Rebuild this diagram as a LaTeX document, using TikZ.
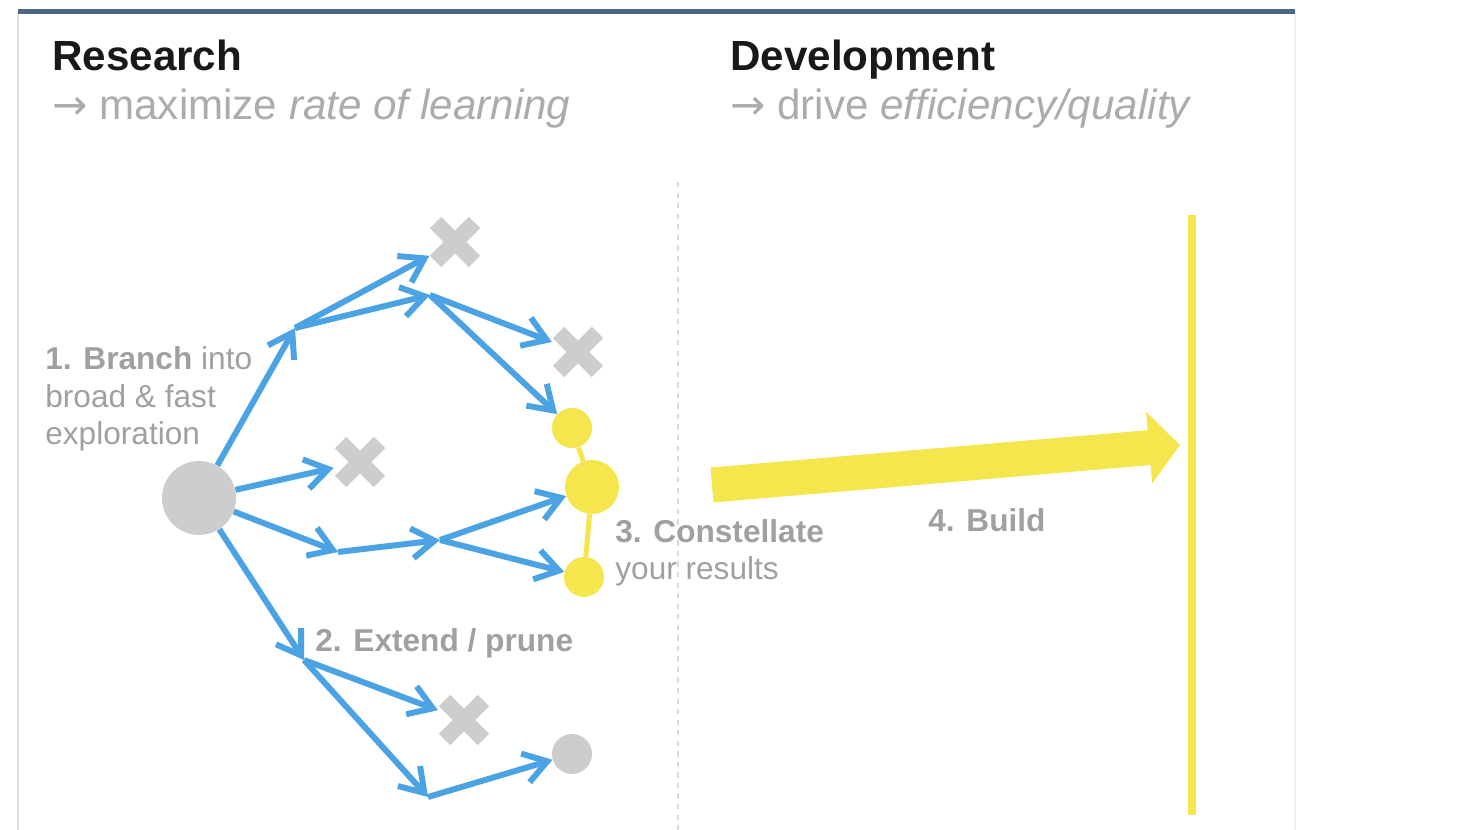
\documentclass[tikz,border=0pt]{standalone}
\usepackage{fontspec}
\setmainfont{Liberation Sans}
\newfontfamily\arrowfont{DejaVu Sans}
\usetikzlibrary{arrows.meta,shapes.misc}
\definecolor{branchblue}{RGB}{76,163,228}
\definecolor{constyellow}{RGB}{244,230,76}
\definecolor{deadgray}{RGB}{205,205,205}
\definecolor{labelgray}{RGB}{160,160,160}
\definecolor{subgray}{RGB}{172,172,172}
\definecolor{framebar}{RGB}{80,102,135}
\tikzset{
  branch/.style={draw=branchblue, line width=3.4pt, -{Straight Barb[length=13pt,width=17pt]}},
  toprune/.style={branch, shorten >=4pt},
  pruned/.style={cross out, draw=deadgray, line width=0.32cm, minimum size=0.78cm, inner sep=0pt, outer sep=0pt},
  dot/.style={circle, fill=#1, inner sep=0pt},
  heading/.style={anchor=base west, inner sep=0pt, font=\fontsize{24}{28}\selectfont\bfseries, text=black!90},
  subtitle/.style={anchor=base west, inner sep=0pt, font=\fontsize{24}{28}\selectfont, text=subgray},
  steplabel/.style={anchor=base west, inner sep=0pt, font=\fontsize{18}{21.6}\selectfont, text=labelgray, align=left}
}
\begin{document}
\begin{tikzpicture}[x=0.02cm, y=-0.02cm]
\useasboundingbox (0,0) rectangle (1464,830);
% frame of the slide
\draw[black!12, line width=1pt] (18,12) -- (18,830);
\draw[black!5, line width=1pt] (1295,12) -- (1295,830);
\draw[framebar, line width=0.1cm] (18,12) -- (1295,12);
\draw[black!15, dashed, line width=1pt] (678,182) -- (678,830);
% headings
\node (research) at (52,71) [heading] {Research};
\node (rgoal) at (52,120) [subtitle] {{\arrowfont →} maximize \textit{rate of learning}};
\node (development) at (730,71) [heading] {Development};
\node (dgoal) at (730,120) [subtitle] {{\arrowfont →} drive \textit{efficiency/quality}};
% nodes
\node (root) at (199,498) [dot=deadgray, minimum size=1.48cm]{};
\node (x1) at (455,242) [pruned]{};
\node (x2) at (578,352) [pruned]{};
\node (x3) at (360,462) [pruned]{};
\node (x4) at (464,720) [pruned]{};
\node (y1) at (572,428) [dot=constyellow, minimum size=0.8cm]{};
\node (y2) at (592,487) [dot=constyellow, minimum size=1.08cm]{};
\node (y3) at (584,577) [dot=constyellow, minimum size=0.8cm]{};
\node (end) at (572,754) [dot=deadgray, minimum size=0.8cm]{};
\coordinate (a1) at (295,328);
\coordinate (a2) at (430,295);
\coordinate (b1) at (338,552);
\coordinate (b2) at (440,540);
\coordinate (c1) at (304,660);
\coordinate (c2) at (428,797);
% labels
\node (branchlbl) at (45,445) [steplabel] {\textbf{1. Branch} into\\broad \& fast\\exploration};
\node (prunelbl) at (315,652) [steplabel] {\textbf{2. Extend / prune}};
\node (constlbl) at (615,580) [steplabel] {\textbf{3. Constellate}\\your results};
\node (buildlbl) at (928,532) [steplabel] {\textbf{4. Build}};
% branches
\draw[branch] (root) to (a1);
\draw[toprune] (a1) to (x1);
\draw[branch] (a1) to (a2);
\draw[toprune] (a2) to (x2);
\draw[branch] (a2) to (y1);
\draw[toprune] (root) to (x3);
\draw[branch] (root) to (b1);
\draw[branch] (b1) to (b2);
\draw[branch] (b2) to (y2);
\draw[branch] (b2) to (y3);
\draw[branch] (root) to (c1);
\draw[toprune] (c1) to (x4);
\draw[branch] (c1) to (c2);
\draw[branch] (c2) to (end);
% constellation
\draw[constyellow, line width=0.1cm] (y1) -- (y2) -- (y3);
% build
\coordinate (buildstart) at (712,485);
\coordinate (buildend) at (1180,445);
\coordinate (buildtop) at (1192,215);
\coordinate (buildbottom) at (1192,815);
\draw[constyellow, line width=0.7cm, -{Triangle[length=0.62cm,width=1.4cm]}] (buildstart) -- (buildend);
\draw[constyellow, line width=0.16cm] (buildtop) -- (buildbottom);
\end{tikzpicture}
\end{document}
